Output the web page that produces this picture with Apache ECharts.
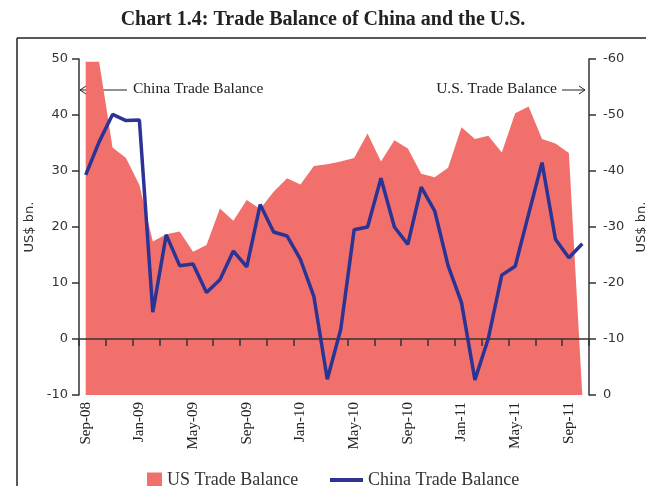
<!DOCTYPE html>
<html>
<head>
<meta charset="utf-8">
<script src="https://cdn.jsdelivr.net/npm/echarts@6/dist/echarts.min.js"></script>
<style>
  html, body { margin: 0; padding: 0; background: #fff; }
  #chart { width: 646px; height: 486px; }
</style>
</head>
<body>
<div id="chart"></div>
<script>
// months Sep-08 .. Oct-11
const months = [
  'Sep-08', 'Oct-08', 'Nov-08', 'Dec-08',
  'Jan-09', 'Feb-09', 'Mar-09', 'Apr-09', 'May-09', 'Jun-09', 'Jul-09', 'Aug-09', 'Sep-09', 'Oct-09', 'Nov-09', 'Dec-09',
  'Jan-10', 'Feb-10', 'Mar-10', 'Apr-10', 'May-10', 'Jun-10', 'Jul-10', 'Aug-10', 'Sep-10', 'Oct-10', 'Nov-10', 'Dec-10',
  'Jan-11', 'Feb-11', 'Mar-11', 'Apr-11', 'May-11', 'Jun-11', 'Jul-11', 'Aug-11', 'Sep-11', 'Oct-11'
]

// China trade balance, left axis (US$ bn.)
const chinaBalance = [
  29.3, 35.2, 40.1, 39.0,
  39.1, 4.8, 18.6, 13.1, 13.4, 8.3, 10.6, 15.7, 12.9, 24.0, 19.1, 18.4,
  14.2, 7.6, -7.2, 1.7, 19.5, 20.0, 28.7, 20.0, 16.9, 27.1, 22.9, 13.1,
  6.5, -7.3, 0.1, 11.4, 13.0, 22.3, 31.5, 17.8, 14.5, 17.0
]

// US trade balance, right axis (US$ bn., inverted)
const usBalance = [
  -59.5, -59.5, -44.2, -42.3,
  -37.5, -27.4, -28.7, -29.2, -25.6, -26.8, -33.3, -31.1, -34.8, -33.2, -36.3, -38.7,
  -37.6, -40.9, -41.2, -41.7, -42.3, -46.7, -41.7, -45.5, -44.0, -39.5, -38.9, -40.6,
  -47.8, -45.7, -46.3, -43.3, -50.3, -51.5, -45.7, -44.9, -43.2, 0
]

const leftTicks = { min: -10, max: 50, interval: 10 }
const rightTicks = { min: -60, max: 0, interval: 10 }

const chart = echarts.init(document.getElementById('chart'))

const serif = 'Liberation Serif'
const sans = 'DejaVu Sans'
const axisColor = '#333'
const usColor = '#F1706B'
const chinaColor = '#2B3395'

const option = {
  animation: false,
  title: {
    text: 'Chart 1.4: Trade Balance of China and the U.S.',
    left: 'center',
    top: 5,
    textStyle: { fontFamily: serif, fontWeight: 'bold', fontSize: 20, color: '#222' }
  },
  legend: [
    {
      data: ['US Trade Balance'],
      left: 142,
      top: 466,
      icon: 'rect',
      itemWidth: 15,
      itemHeight: 15,
      itemGap: 8,
      textStyle: { fontFamily: serif, fontSize: 18, color: '#333' }
    },
    {
      data: ['China Trade Balance'],
      left: 325,
      top: 466,
      icon: 'rect',
      itemWidth: 33,
      itemHeight: 4,
      textStyle: { fontFamily: serif, fontSize: 18, color: '#333' }
    }
  ],
  grid: { left: 79, right: 57, top: 59, bottom: 91, containLabel: false, outerBoundsMode: 'none' },
  xAxis: [
    {
      type: 'category',
      data: months,
      boundaryGap: true,
      position: 'bottom',
      axisLine: { show: false, onZero: false },
      axisTick: { show: false },
      axisLabel: {
        interval: 3,
        rotate: 90,
        margin: 7,
        fontFamily: serif,
        fontSize: 15,
        color: '#222'
      }
    },
    {
      // line at zero with the ticks, drawn over the area
      type: 'category',
      data: months,
      boundaryGap: true,
      position: 'bottom',
      z: 10,
      axisLine: { show: true, onZero: true, onZeroAxisIndex: 0, lineStyle: { color: axisColor, width: 1.5 } },
      axisTick: { show: true, interval: 1, length: 7, lineStyle: { color: axisColor, width: 1.5 } },
      axisLabel: { show: false }
    }
  ],
  yAxis: [
    {
      type: 'value',
      ...leftTicks,
      name: 'US$ bn.',
      nameLocation: 'middle',
      nameRotate: 90,
      nameGap: 34,
      nameTextStyle: { fontFamily: sans, fontSize: 13, color: '#333' },
      axisLine: { show: true, lineStyle: { color: axisColor, width: 1.5 } },
      axisTick: { show: true, length: 7, lineStyle: { color: axisColor, width: 1.5 } },
      axisLabel: { margin: 11, fontFamily: sans, fontSize: 13, color: '#333' },
      splitLine: { show: false }
    },
    {
      type: 'value',
      ...rightTicks,
      inverse: true,
      position: 'right',
      name: 'US$ bn.',
      nameLocation: 'middle',
      nameRotate: 90,
      nameGap: 36,
      nameTextStyle: { fontFamily: sans, fontSize: 13, color: '#333' },
      axisLine: { show: true, lineStyle: { color: axisColor, width: 1.5 } },
      axisTick: { show: true, length: 7, lineStyle: { color: axisColor, width: 1.5 } },
      axisLabel: { margin: 14, fontFamily: sans, fontSize: 13, color: '#333' },
      splitLine: { show: false }
    }
  ],
  series: [
    {
      name: 'US Trade Balance',
      type: 'line',
      xAxisIndex: 0,
      yAxisIndex: 1,
      data: usBalance,
      symbol: 'none',
      itemStyle: { color: usColor },
      lineStyle: { width: 0, color: usColor },
      areaStyle: { color: usColor, opacity: 1 },
      z: 1
    },
    {
      name: 'China Trade Balance',
      type: 'line',
      xAxisIndex: 0,
      yAxisIndex: 0,
      data: chinaBalance,
      symbol: 'none',
      itemStyle: { color: chinaColor },
      lineStyle: { width: 3.5, color: chinaColor },
      z: 12
    }
  ],
  graphic: [
    // frame
    { type: 'line', shape: { x1: 17, y1: 38, x2: 646, y2: 38 }, style: { stroke: '#222', lineWidth: 1.5 } },
    { type: 'line', shape: { x1: 17, y1: 38, x2: 17, y2: 486 }, style: { stroke: '#222', lineWidth: 1.5 } },
    // China annotation
    { type: 'line', shape: { x1: 80, y1: 90, x2: 127, y2: 90 }, style: { stroke: '#222', lineWidth: 1 } },
    { type: 'polyline', shape: { points: [[86, 86], [80, 90], [86, 94]] }, style: { stroke: '#222', lineWidth: 1, fill: null } },
    {
      type: 'text', left: 133, top: 81,
      style: { text: 'China Trade Balance', font: '15.5px "Liberation Serif"', fill: '#222' }
    },
    // US annotation
    { type: 'line', shape: { x1: 562, y1: 90, x2: 585, y2: 90 }, style: { stroke: '#222', lineWidth: 1 } },
    { type: 'polyline', shape: { points: [[579, 86], [585, 90], [579, 94]] }, style: { stroke: '#222', lineWidth: 1, fill: null } },
    {
      type: 'text', right: 89, top: 81,
      style: { text: 'U.S. Trade Balance', font: '15.5px "Liberation Serif"', fill: '#222' }
    }
  ]
}

chart.setOption(option)
</script>
</body>
</html>
